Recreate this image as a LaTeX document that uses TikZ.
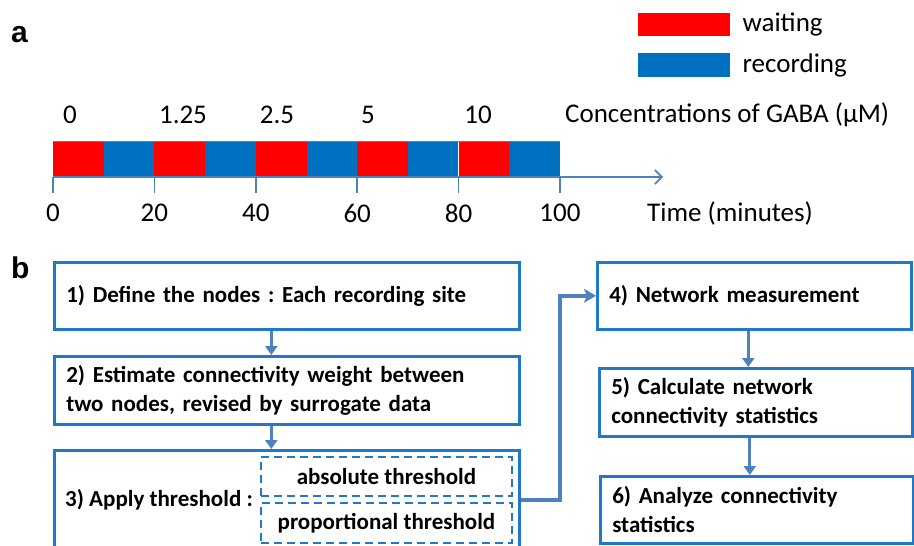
\documentclass[tikz,border=0pt]{standalone}
\usepackage{fontspec}
\setmainfont{Carlito}
\newfontfamily\panelfont{Liberation Sans}
\usetikzlibrary{arrows.meta}
\frenchspacing
\definecolor{waitred}{HTML}{FF0000}
\definecolor{recblue}{HTML}{0070C0}
\definecolor{axisblue}{HTML}{4F81BD}
\definecolor{boxblue}{HTML}{1F78C8}
\tikzset{
  panel/.style={font=\panelfont\bfseries\fontsize{30}{34}\selectfont, anchor=base west, inner sep=0},
  tl/.style={font=\fontsize{27}{31}\selectfont, inner sep=0},
  boxtext/.style={font=\bfseries\fontsize{23}{29}\selectfont},
  stepbox/.style={draw=boxblue, line width=2.6pt, anchor=north west, inner xsep=12pt, inner ysep=0,
    align=left, boxtext},
  choice/.style={draw=boxblue, line width=1.9pt, dash pattern=on 8pt off 5pt, anchor=north west,
    inner sep=0},
  flow/.style={draw=axisblue, line width=2.8pt, -{Triangle[length=9pt,width=12pt]}},
  link/.style={draw=axisblue, line width=4pt, line join=miter, -{Stealth[length=12pt,width=14pt,inset=3pt]}},
  tick/.style={draw=axisblue, line width=1.6pt},
}
\begin{document}
\begin{tikzpicture}[x=1pt,y=-1pt]
\useasboundingbox (0,0) rectangle (914,546);

% ---------- panel a: protocol timeline ----------
\node[panel] (pa) at (11,42) {a};

% legend
\node[fill=waitred, minimum width=92pt, minimum height=23pt, inner sep=0, anchor=north west] (lw) at (638,13) {};
\node[fill=recblue, minimum width=92pt, minimum height=24pt, inner sep=0, anchor=north west] (lr) at (638,53) {};
\node[tl, anchor=west] (tw) at ([xshift=12pt]lw.east) {waiting};
\node[tl, anchor=west] (tr) at ([xshift=12pt]lr.east) {recording};

% alternating waiting / recording blocks, 10 minutes each
\foreach \i in {0,...,9} {
  \pgfmathsetmacro{\xa}{53+50.7*\i}
  \pgfmathsetmacro{\xb}{53+50.7*(\i+1)}
  \pgfmathtruncatemacro{\odd}{mod(\i,2)}
  \ifnum\odd=0
    \fill[waitred] (\xa,141) rectangle (\xb,177);
  \else
    \fill[recblue] (\xa,141) rectangle (\xb,177);
  \fi
}
\draw[axisblue, line width=0.8pt] (53,141) -- (560,141);
\draw[white, line width=1pt] (458.6,141.5) -- (458.6,176.5);

% time axis
\coordinate (t0) at (53,177);
\coordinate (tend) at (663,177);
\draw[axisblue, line width=1.6pt, -{Straight Barb[length=7pt,width=14pt,line width=1.6pt]}] (t0) -- (tend);
\foreach \t/\lab in {0/0,20/20,40/40,60/60,80/80,100/100} {
  \pgfmathsetmacro{\xx}{53+5.07*\t}
  \draw[tick] (\xx,177) -- (\xx,193);
  \node[tl] at (\xx,213) {\lab};
}
\node[tl, anchor=west] (taxis) at (647,213) {Time (minutes)};

% GABA concentrations above the waiting blocks
\foreach \xx/\c in {70/0,183/1.25,277/2.5,368/5,478/10} {
  \node[tl] at (\xx,115) {\c};
}
\node[tl, anchor=west] (conc) at (565,115) {Concentrations of GABA (µM)};

% ---------- panel b: analysis pipeline ----------
\node[panel] (pb) at (11,278) {b};

\node[stepbox, minimum width=465pt, minimum height=67pt, text width=441pt] (b1) at (53,261)
  {1) Define the nodes : Each recording site};
\node[stepbox, minimum width=465pt, minimum height=68pt, text width=441pt] (b2) at (53,355)
  {2) Estimate connectivity weight between\\two nodes, revised by surrogate data};
\node[stepbox, minimum width=465pt, minimum height=99pt] (b3) at (53,449) {};
\node[boxtext, anchor=west, inner sep=0] (b3t) at (65,500) {3) Apply threshold :};
\node[choice, minimum width=251pt, minimum height=39pt] (abs) at (260,456) {};
\node[boxtext, inner sep=0] at (abs.center) {absolute threshold};
\node[choice, minimum width=251pt, minimum height=40pt] (prop) at (260,502) {};
\node[boxtext, inner sep=0] at (prop.center) {proportional threshold};

\node[stepbox, minimum width=314pt, minimum height=67pt, text width=290pt] (b4) at (596,261)
  {4) Network measurement};
\node[stepbox, minimum width=313pt, minimum height=68pt, text width=289pt] (b5) at (598,367)
  {5) Calculate network\\connectivity statistics};
\node[stepbox, minimum width=313pt, minimum height=67pt, text width=289pt] (b6) at (599,475)
  {6) Analyze connectivity\\statistics};

% connectors
\draw[flow] ([xshift=-15.5pt]b1.south) -- ([xshift=-15.5pt]b2.north);
\draw[flow] ([xshift=-15.5pt]b2.south) -- ([xshift=-15.5pt]b3.north);
\draw[link] (b3.east) -- ++(39,0) |- (b4.west);
\draw[flow] ([xshift=-6pt]b4.south) -- ([xshift=-6pt]b4.south |- b5.north);
\draw[flow] ([xshift=-6pt]b5.south) -- ([xshift=-6pt]b5.south |- b6.north);
\end{tikzpicture}
\end{document}
